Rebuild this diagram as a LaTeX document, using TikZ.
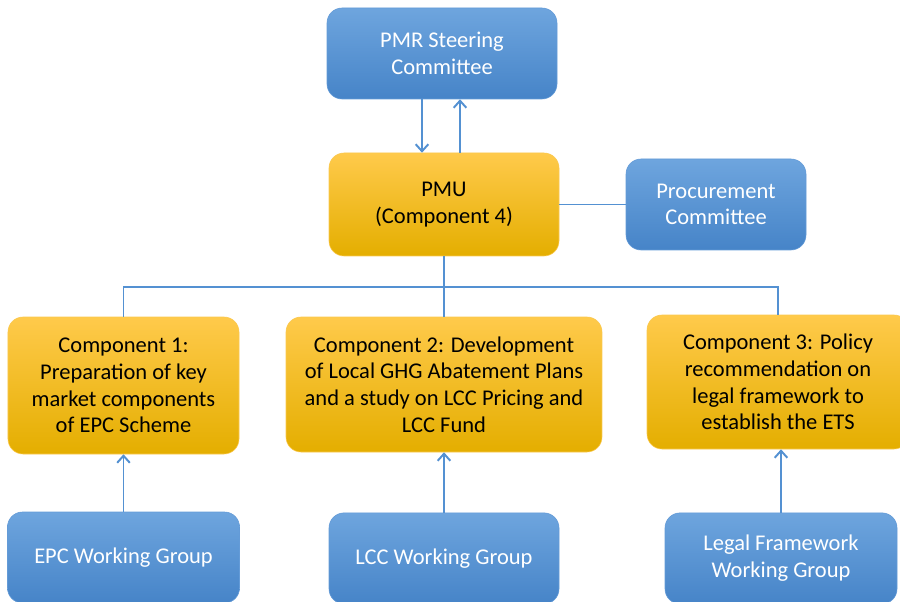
\documentclass[tikz,border=0pt]{standalone}
\usepackage{fontspec}
\setmainfont{Carlito}
\usepackage{tikz}
\usetikzlibrary{arrows.meta}
\usetikzlibrary{positioning}
\definecolor{linkblue}{RGB}{84,145,210}
\definecolor{bluetop}{RGB}{110,165,222}
\definecolor{bluebot}{RGB}{70,132,200}
\definecolor{blueedge}{RGB}{100,155,215}
\definecolor{orgtop}{RGB}{255,202,75}
\definecolor{orgmid}{RGB}{255,192,0}
\definecolor{orgbot}{RGB}{228,174,0}
\definecolor{orgedge}{RGB}{250,200,80}
\tikzset{
  box/.style={rounded corners=0.375cm, align=center, inner sep=2pt,
    font=\fontsize{16}{19}\selectfont},
  bluebox/.style={box, draw=blueedge, top color=bluetop, bottom color=bluebot, text=white},
  orgbox/.style={box, draw=orgedge, top color=orgtop, middle color=orgmid, bottom color=orgbot, text=black},
  link/.style={draw=linkblue, line width=1.4pt},
  arr/.style={link, -{Straight Barb[length=5pt,width=9pt]}}
}
\begin{document}
\begin{tikzpicture}
  \useasboundingbox (0,0) rectangle (22.5,-15.05);
  % top level
  \node[bluebox, minimum width=5.75cm, minimum height=2.275cm] (steer) at (11.05,-1.3375) {PMR Steering\\Committee};
  \node[orgbox, minimum width=5.75cm, minimum height=2.575cm] (pmu) at (11.1,-5.1125) {PMU\\(Component 4)};
  \node[bluebox, minimum width=4.5cm, minimum height=2.275cm] (proc) at (17.9,-5.1125) {Procurement\\Committee};
  % components
  \node[orgbox, minimum width=5.775cm, minimum height=3.425cm] (comp1) at (3.0875,-9.6375) {Component 1:\\Preparation of key\\market components\\of EPC Scheme};
  \node[orgbox, minimum width=7.9cm, minimum height=3.375cm] (comp2) at (11.1,-9.6125) {Component 2: Development\\of Local GHG Abatement Plans\\and a study on LCC Pricing and\\LCC Fund};
  \node[orgbox, minimum width=6.55cm, minimum height=3.35cm] (comp3) at (19.45,-9.55) {Component 3: Policy\\recommendation on\\legal framework to\\establish the ETS};
  % working groups
  \node[bluebox, minimum width=5.8cm, minimum height=2.275cm] (epc) at (3.0875,-13.9375) {EPC Working Group};
  \node[bluebox, minimum width=5.75cm, minimum height=2.275cm] (lcc) at (11.1,-13.96) {LCC Working Group};
  \node[bluebox, minimum width=5.8cm, minimum height=2.275cm] (legal) at (19.525,-13.96) {Legal Framework\\Working Group};
  % connectors
  \draw[arr] ([xshift=-0.5cm]steer.south) -- ([xshift=-0.5cm]steer.south |- pmu.north);
  \draw[arr] ([xshift=0.45cm]steer.south |- pmu.north) -- ([xshift=0.45cm]steer.south);
  \draw[link] (pmu.east) -- (proc.west);
  \coordinate (bus) at (11.1,-7.175);
  \draw[link] (pmu.south) -- (bus);
  \draw[link] (comp1.north) |- (bus) -| (comp3.north);
  \draw[link] (bus) -- (comp2.north);
  \draw[arr] (epc.north) -- (comp1.south);
  \draw[arr] (lcc.north) -- (comp2.south);
  \draw[arr] (legal.north) -- (legal.north |- comp3.south);
\end{tikzpicture}
\end{document}
